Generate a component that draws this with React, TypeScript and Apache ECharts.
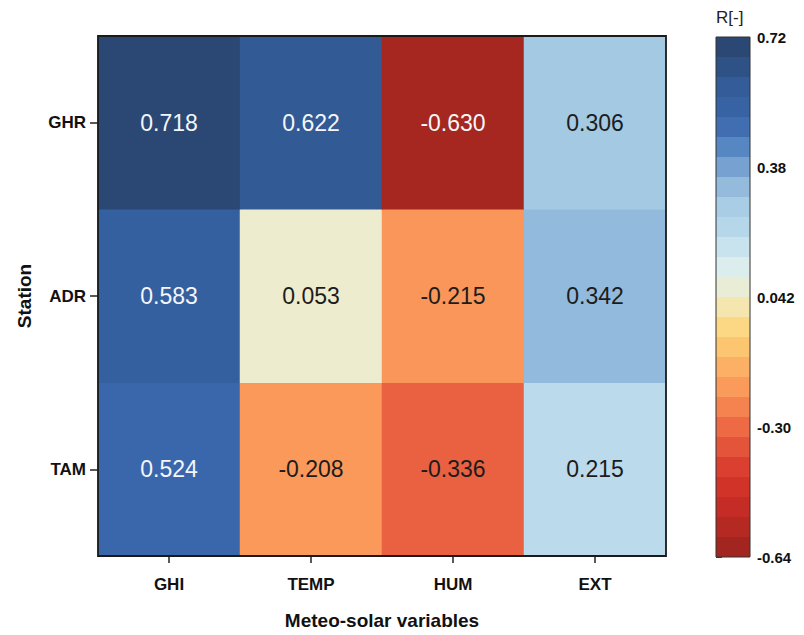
import React, { useEffect, useRef } from "react";
import * as echarts from "echarts";

// ---- data ----
const variables = ["GHI", "TEMP", "HUM", "EXT"];
const stations = ["TAM", "ADR", "GHR"]; // bottom to top
const valuesGHR = [0.718, 0.622, -0.63, 0.306];
const valuesADR = [0.583, 0.053, -0.215, 0.342];
const valuesTAM = [0.524, -0.208, -0.336, 0.215];
const colorbarMin = -0.64;
const colorbarMax = 0.72;
const colorbarInterval = 0.34;
const colorbarTickLabels = ["-0.64", "-0.30", "0.042", "0.38", "0.72"];
const colorbarBands = 26;

// evenly spaced colour ramp (low -> high)
const ramp = [
  "#a2261f", "#b92a23", "#cb2e26", "#d93a2c", "#e4543a", "#ef7046",
  "#f98f56", "#fbaa62", "#fcc670", "#fcdc8a", "#f0ebc8", "#e0f0ec",
  "#c8e3ee", "#b2d4e8", "#a2c8e2", "#7ea8d4", "#5687c3", "#3b68ad",
  "#3560a0", "#30558b", "#2b4773",
];

const FONT = "'Liberation Sans', Arial, Helvetica, sans-serif";

export default function App() {
  const ref = useRef<HTMLDivElement>(null);
  useEffect(() => {
    if (!ref.current) return;
    const chart = echarts.init(ref.current, undefined, { renderer: "svg" });
    const rows: [string, number[]][] = [
      ["TAM", valuesTAM],
      ["ADR", valuesADR],
      ["GHR", valuesGHR],
    ];
    const data: any[] = [];
    rows.forEach(([st, vals]) => {
      vals.forEach((v, i) => {
        const light = v > 0.45 || v < -0.5;
        data.push({
          value: [variables[i], st, v],
          label: { color: light ? "#f4f6fa" : "#1c1c1c" },
        });
      });
    });

    chart.setOption({
      animation: false,
      backgroundColor: "#ffffff",
      textStyle: { fontFamily: FONT },
      grid: [
        {
          left: 98, top: 36, width: 568, height: 522,
          show: true, borderColor: "#1a1a1a", borderWidth: 1.8,
          backgroundColor: "transparent", z: 3,
        },
        {
          left: 716, top: 37, width: 34, height: 520,
          show: true, borderColor: "#333333", borderWidth: 1,
          backgroundColor: "transparent", z: 6,
        },
      ],
      xAxis: [
        {
          type: "category", gridIndex: 0, data: variables,
          axisLine: { show: false },
          axisTick: { show: true, alignWithLabel: true, length: 7, lineStyle: { color: "#222", width: 1.5 } },
          axisLabel: { fontSize: 17, fontWeight: "bold", color: "#111", margin: 20, fontFamily: FONT },
          splitLine: { show: false },
          name: "Meteo-solar variables",
          nameLocation: "middle",
          nameGap: 55,
          nameTextStyle: { fontSize: 19, fontWeight: "bold", color: "#111", fontFamily: FONT },
        },
        { type: "value", gridIndex: 1, min: 0, max: 1, show: false },
      ],
      yAxis: [
        {
          type: "category", gridIndex: 0, data: stations,
          axisLine: { show: false },
          axisTick: { show: true, alignWithLabel: true, length: 8, lineStyle: { color: "#222", width: 1.5 } },
          axisLabel: { fontSize: 17, fontWeight: "bold", color: "#111", margin: 12, fontFamily: FONT },
          splitLine: { show: false },
          name: "Station",
          nameLocation: "middle",
          nameGap: 64,
          nameRotate: 90,
          nameTextStyle: { fontSize: 19, fontWeight: "bold", color: "#111", fontFamily: FONT },
        },
        {
          type: "value", gridIndex: 1, position: "right",
          min: colorbarMin, max: colorbarMax, interval: colorbarInterval,
          axisLine: { show: false },
          axisTick: { show: true, length: 6, lineStyle: { color: "#444", width: 1 } },
          splitLine: { show: false },
          axisLabel: {
            fontSize: 15, fontWeight: "bold", color: "#111", margin: 7, fontFamily: FONT,
            formatter: (v: number) =>
              colorbarTickLabels[Math.round((v - colorbarMin) / colorbarInterval)] ?? "",
          },
        },
      ],
      visualMap: [
        {
          type: "continuous", show: false, seriesIndex: 0, dimension: 2,
          min: colorbarMin, max: colorbarMax,
          inRange: { color: ramp },
        },
        {
          type: "piecewise", show: true, seriesIndex: [],
          min: colorbarMin, max: colorbarMax, splitNumber: colorbarBands,
          orient: "vertical", left: 716, top: 37, padding: 0,
          itemWidth: 34, itemHeight: 20, itemGap: 0, itemSymbol: "rect",
          showLabel: false, selectedMode: false,
          inRange: { color: ramp },
        },
      ],
      graphic: [
        {
          type: "text", left: 716, top: 9,
          style: { text: "R[-]", fontSize: 17, fill: "#222", fontFamily: FONT },
        },
      ],
      series: [
        {
          type: "heatmap",
          xAxisIndex: 0, yAxisIndex: 0,
          data,
          label: {
            show: true, fontSize: 23, fontFamily: FONT,
            formatter: (p: any) => p.value[2].toFixed(3),
          },
          itemStyle: { borderWidth: 0 },
          emphasis: { disabled: true },
        },
      ],
    });
    return () => chart.dispose();
  }, []);
  return (
    <div
      ref={ref}
      style={{ position: "fixed", left: 0, top: 0, width: 804, height: 635 }}
    />
  );
}
